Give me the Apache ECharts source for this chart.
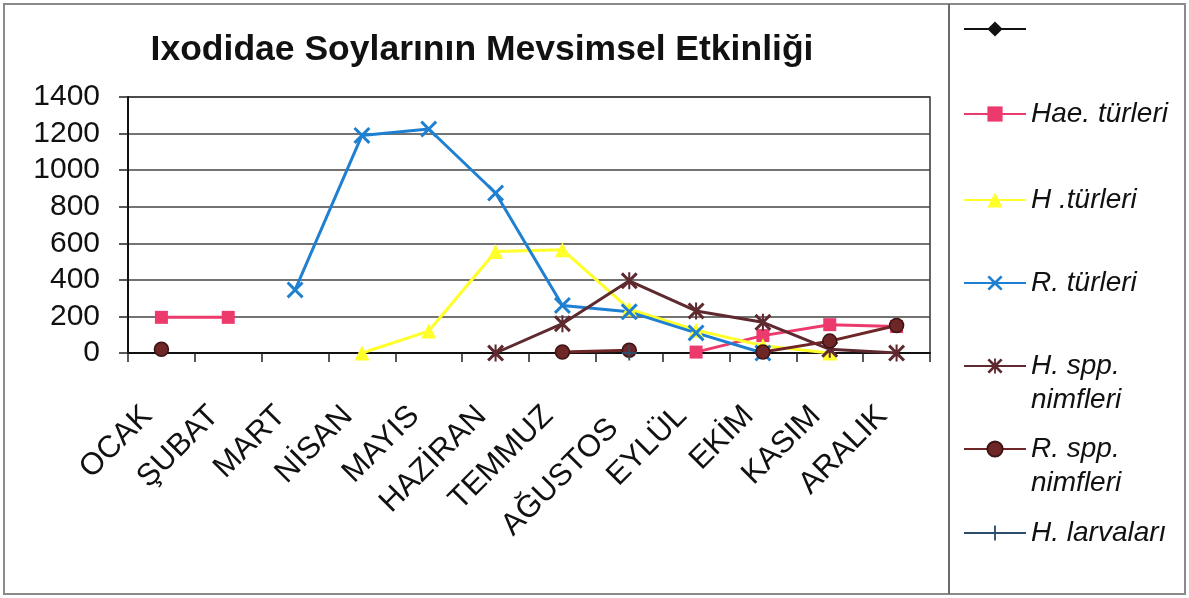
<!DOCTYPE html>
<html>
<head>
<meta charset="utf-8">
<script src="https://cdn.jsdelivr.net/npm/echarts@6/dist/echarts.min.js"></script>
<style>
  html, body { margin: 0; padding: 0; background: #fff; }
  #chart { width: 1189px; height: 598px; }
</style>
</head>
<body>
<div id="chart"></div>
<script>
// Months along the category axis
const months = ['OCAK', 'ŞUBAT', 'MART', 'NİSAN', 'MAYIS', 'HAZİRAN', 'TEMMUZ', 'AĞUSTOS', 'EYLÜL', 'EKİM', 'KASIM', 'ARALIK'];

// Monthly counts per group (null = no record for that month)
const unnamedSeries = [null, null, null, null, null, null, null, null, null, null, null, null];
const haeTurleri    = [195, 195, null, null, null, null, null, null, 5, 95, 155, 145];
const hTurleri      = [null, null, null, 0, 120, 555, 565, 240, 125, 40, 0, null];
const rTurleri      = [null, null, 345, 1190, 1225, 875, 260, 225, 110, 0, null, null];
const hSppNimfleri  = [null, null, null, null, null, 0, 160, 395, 230, 168, 20, 0];
const rSppNimfleri  = [20, null, null, null, null, null, 5, 15, null, 5, 65, 150];
const hLarvalari    = [null, null, null, null, null, null, null, 0, null, null, null, null];

// Value axis ticks
const yTicks = [0, 200, 400, 600, 800, 1000, 1200, 1400];

const FONT = 'Liberation Sans, Arial, sans-serif';
const LEGEND_LH = 34;

// Filled marker outlines (20x20 box) so the strokes stay bold at any size
const xShape = 'M0,2.5L2.5,0L10,7.5L17.5,0L20,2.5L12.5,10L20,17.5L17.5,20L10,12.5L2.5,20L0,17.5L7.5,10Z';
const xPath = 'path://' + xShape;
const starPath = 'path://' + xShape + 'M8.8,0L11.2,0L11.2,20L8.8,20Z';
const plusPath = 'path://M8.8,0L11.2,0L11.2,20L8.8,20ZM0,8.8L20,8.8L20,11.2L0,11.2Z';

function lineSeries(name, data, color, symbol, size, extra) {
  return Object.assign({
    name: name,
    type: 'line',
    data: data,
    connectNulls: false,
    symbol: symbol,
    symbolSize: size,
    showAllSymbol: true,
    animation: false,
    lineStyle: { color: color, width: 3 },
    itemStyle: { color: color, borderWidth: 0 }
  }, extra || {});
}

const seriesList = [
  lineSeries(' ', unnamedSeries, '#111111', 'diamond', 15),
  lineSeries('Hae. türleri', haeTurleri, '#ec3a6c', 'rect', 13),
  lineSeries('H .türleri', hTurleri, '#ffff2a', 'triangle', 15),
  lineSeries('R. türleri', rTurleri, '#1f80d2', xPath, 17),
  lineSeries('H. spp. nimfleri', hSppNimfleri, '#5e2a30', starPath, 17),
  lineSeries('R. spp. nimfleri', rSppNimfleri, '#6e2626', 'circle', 14,
    { itemStyle: { color: '#6e2626', borderColor: '#3c1414', borderWidth: 1.5 } }),
  lineSeries('H. larvaları', hLarvalari, '#2c4c6c', plusPath, 15)
];

// One legend block per entry so each sits at its own row in the side panel
const legendRows = [
  { name: ' ', center: 29 },
  { name: 'Hae. türleri', center: 114 },
  { name: 'H .türleri', center: 200 },
  { name: 'R. türleri', center: 283 },
  { name: 'H. spp. nimfleri', center: 366, label: ' \nH. spp.\nnimfleri' },
  { name: 'R. spp. nimfleri', center: 449, label: ' \nR. spp.\nnimfleri' },
  { name: 'H. larvaları', center: 533 }
];

const legends = legendRows.map(function (row) {
  const lines = row.label ? 3 : 1;
  return {
    show: true,
    left: 963,
    top: row.center - lines * LEGEND_LH / 2,
    padding: 0,
    orient: 'vertical',
    data: [row.name],
    itemWidth: 62,
    itemHeight: 19,
    selectedMode: false,
    formatter: function () { return row.label || row.name; },
    textStyle: {
      fontFamily: FONT,
      fontStyle: 'italic',
      fontSize: 28,
      color: '#111',
      lineHeight: LEGEND_LH
    }
  };
});

const chart = echarts.init(document.getElementById('chart'), null, { renderer: 'canvas' });

chart.setOption({
  backgroundColor: '#ffffff',
  animation: false,
  title: {
    text: 'Ixodidae Soylarının Mevsimsel Etkinliği',
    left: 477,
    textAlign: 'center',
    top: 27,
    textStyle: { fontFamily: FONT, fontWeight: 'bold', fontSize: 35.5, color: '#111' }
  },
  legend: legends,
  grid: {
    left: 128, right: 259, top: 97, bottom: 245,
    show: true, borderColor: '#333', borderWidth: 1.5, backgroundColor: 'transparent'
  },
  xAxis: {
    type: 'category',
    data: months,
    boundaryGap: true,
    axisLine: { lineStyle: { color: '#111', width: 2 } },
    axisTick: { show: true, length: 9, lineStyle: { color: '#222', width: 1.5 } },
    axisLabel: {
      interval: 0, rotate: 45, margin: 44,
      padding: [0, 20, 0, 0],
      fontFamily: FONT, fontSize: 31, color: '#111',
      formatter: function (v) { return v === 'AĞUSTOS' ? '{low|' + v + '}' : v; },
      rich: {
        low: { fontFamily: FONT, fontSize: 31, color: '#111', padding: [16, 10, 0, 0] }
      }
    },
    splitLine: { show: false }
  },
  yAxis: {
    type: 'value',
    min: yTicks[0],
    max: yTicks[yTicks.length - 1],
    interval: 200,
    axisLine: { show: true, lineStyle: { color: '#111', width: 2 } },
    axisTick: { show: true, length: 9, lineStyle: { color: '#222', width: 1.5 } },
    axisLabel: {
      margin: 28, fontFamily: FONT, fontSize: 30, color: '#111',
      padding: [11, 0, 0, 0],
      formatter: function (v) { return String(v); }
    },
    splitLine: { show: true, lineStyle: { color: '#444', width: 1.5 } }
  },
  series: seriesList,
  graphic: [
    {
      type: 'rect',
      shape: { x: 4, y: 4, width: 1181, height: 590 },
      style: { fill: 'none', stroke: '#8a8a8a', lineWidth: 2 },
      silent: true, z: 100
    },
    {
      type: 'line',
      shape: { x1: 949, y1: 4, x2: 949, y2: 594 },
      style: { stroke: '#6a6a6a', lineWidth: 2 },
      silent: true, z: 100
    }
  ]
});
</script>
</body>
</html>
